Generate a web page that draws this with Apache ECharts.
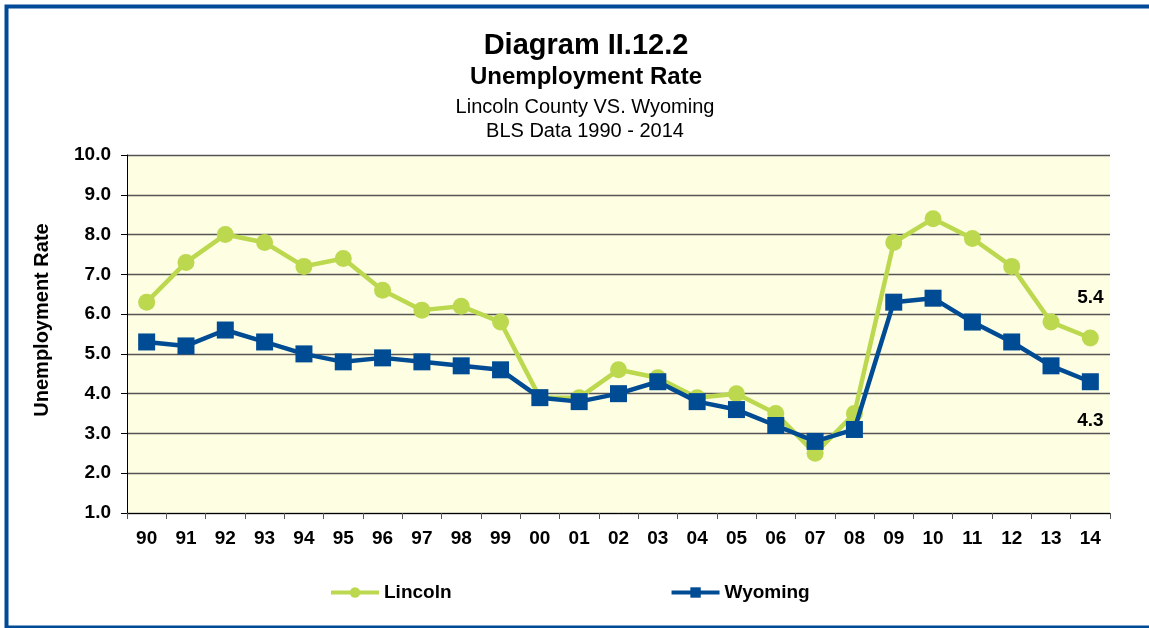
<!DOCTYPE html>
<html><head><meta charset="utf-8">
<script src="https://cdn.jsdelivr.net/npm/echarts@6/dist/echarts.min.js"></script>
<style>html,body{margin:0;padding:0;background:#fff}#c{width:1149px;height:628px}</style>
</head><body><div id="c"></div>
<script>
const categories = ['90','91','92','93','94','95','96','97','98','99','00','01','02','03','04','05','06','07','08','09','10','11','12','13','14'];
const lincoln = [6.3,7.3,8.0,7.8,7.2,7.4,6.6,6.1,6.2,5.8,3.9,3.9,4.6,4.4,3.9,4.0,3.5,2.5,3.5,7.8,8.4,7.9,7.2,5.8,5.4];
const wyoming = [5.3,5.2,5.6,5.3,5.0,4.8,4.9,4.8,4.7,4.6,3.9,3.8,4.0,4.3,3.8,3.6,3.2,2.8,3.1,6.3,6.4,5.8,5.3,4.7,4.3];
const FONT = 'Liberation Sans, Arial, sans-serif';
const GREEN = '#BBD84F', BLUE = '#004C94';
const chart = echarts.init(document.getElementById('c'));
function lastLabel(arr, pos, dist){
  return arr.map((v,i)=> i===arr.length-1 ? {value:v, label:{show:true, position:pos, distance:dist, formatter:(p)=>p.value.toFixed(1), fontFamily:FONT, fontWeight:'bold', fontSize:19, color:'#000'}} : v);
}
chart.setOption({
  animation:false,
  backgroundColor:'#fff',
  title:[
    {text:'Diagram II.12.2', left:581, top:26, textAlign:'center', textStyle:{fontFamily:FONT, fontWeight:'bold', fontSize:29, color:'#000'}},
    {text:'Unemployment Rate', left:581, top:60, textAlign:'center', textStyle:{fontFamily:FONT, fontWeight:'bold', fontSize:24, color:'#000'}},
    {text:'Lincoln County VS. Wyoming', left:580, top:92, textAlign:'center', textStyle:{fontFamily:FONT, fontWeight:'normal', fontSize:20, color:'#000'}},
    {text:'BLS Data 1990 - 2014', left:580, top:116, textAlign:'center', textStyle:{fontFamily:FONT, fontWeight:'normal', fontSize:20, color:'#000'}}
  ],
  graphic:[
    {type:'rect', shape:{x:6.5, y:6.5, width:1200, height:621}, style:{fill:null, stroke:'#004A98', lineWidth:4}, silent:true},
    {type:'text', x:42, y:320, rotation:Math.PI/2, style:{text:'Unemployment Rate', fontFamily:FONT, fontWeight:'bold', fontSize:20, fill:'#000', textAlign:'center', textVerticalAlign:'middle'}}
  ],
  legend:{
    left:324, top:578, itemWidth:48, itemHeight:13, itemGap:218,
    lineStyle:{width:4},
    textStyle:{fontFamily:FONT, fontWeight:'bold', fontSize:19, color:'#000'},
    data:['Lincoln','Wyoming']
  },
  grid:{left:127, right:39, top:155, bottom:115, show:true, backgroundColor:'#FEFEE2', borderWidth:0},
  xAxis:{
    type:'category', data:categories, boundaryGap:true,
    axisLine:{lineStyle:{color:'#000', width:1}},
    axisTick:{show:true, alignWithLabel:false, length:6, lineStyle:{color:'#555'}},
    axisLabel:{fontFamily:FONT, fontWeight:'bold', fontSize:19, color:'#000', margin:16}
  },
  yAxis:{
    type:'value', min:1, max:10, interval:1,
    axisLine:{show:true, lineStyle:{color:'#000', width:1}},
    axisTick:{show:true, length:6, lineStyle:{color:'#000'}},
    axisLabel:{fontFamily:FONT, fontWeight:'bold', fontSize:19, color:'#000', margin:16, formatter:(v)=>v.toFixed(1)},
    splitLine:{show:true, lineStyle:{color:'#555', width:1.3}}
  },
  series:[
    {name:'Lincoln', type:'line', data:lastLabel(lincoln,'top',22), symbol:'circle', symbolSize:17,
     lineStyle:{color:GREEN, width:4.5}, itemStyle:{color:GREEN}, z:2},
    {name:'Wyoming', type:'line', data:lastLabel(wyoming,'bottom',21), symbol:'rect', symbolSize:17,
     lineStyle:{color:BLUE, width:4.5}, itemStyle:{color:BLUE}, z:3}
  ]
});
</script></body></html>
